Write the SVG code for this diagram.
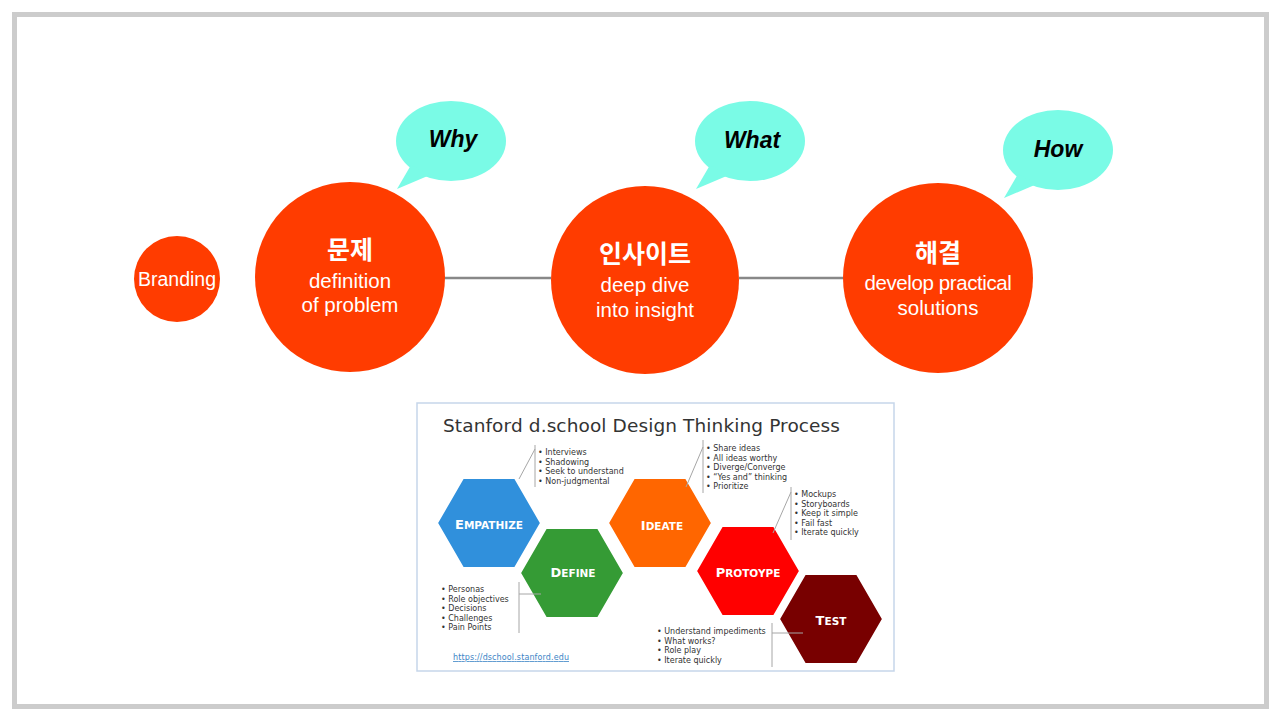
<svg xmlns="http://www.w3.org/2000/svg" width="1280" height="720" viewBox="0 0 1280 720">
<style>
.circ{fill:#ff3c00}
.bub{fill:#7afbe6}
.q{font-family:"Liberation Sans",Arial,sans-serif;font-weight:bold;font-style:italic;font-size:23px;fill:#000;text-anchor:middle}
.ko{font-family:"Noto Sans CJK KR","Noto Sans",sans-serif;font-weight:bold;font-size:25px;fill:#fff;text-anchor:middle}
.en{font-family:"Liberation Sans",Arial,sans-serif;font-size:20.5px;fill:#fff;text-anchor:middle}
.hex{stroke:#fff;stroke-width:2}
.hl{font-family:"DejaVu Sans",Verdana,sans-serif;font-weight:bold;font-size:10.5px;fill:#fff;text-anchor:middle}
.big{font-size:13px}
.li{font-family:"DejaVu Sans",Verdana,sans-serif;font-size:8px;fill:#333}
.br{stroke:#a6a6a6;stroke-width:1;fill:none}
</style>
<rect x="0" y="0" width="1280" height="720" fill="#fff"/>
<rect x="14.5" y="14.5" width="1252" height="692" fill="#fff" stroke="#cccccc" stroke-width="5"/>

<g id="connectors">
<line x1="444" y1="278" x2="551" y2="278" stroke="#888" stroke-width="2.5"/>
<line x1="739" y1="278" x2="844" y2="278" stroke="#888" stroke-width="2.5"/>
</g>

<g id="branding">
<circle class="circ" cx="177" cy="279" r="43"/>
<text class="en" x="177" y="286" style="font-size:19.5px">Branding</text>
</g>

<g id="problem">
<circle class="circ" cx="350" cy="277" r="95"/>
<text class="ko" x="350" y="259">문제</text>
<text class="en" x="350" y="288">definition</text>
<text class="en" x="350" y="312">of problem</text>
</g>

<g id="insight">
<circle class="circ" cx="645" cy="280" r="94"/>
<text class="ko" x="645" y="263">인사이트</text>
<text class="en" x="645" y="292">deep dive</text>
<text class="en" x="645" y="317">into insight</text>
</g>

<g id="solution">
<circle class="circ" cx="938" cy="278" r="95"/>
<text class="ko" x="938" y="262">해결</text>
<text class="en" x="938" y="290" style="letter-spacing:-0.4px">develop practical</text>
<text class="en" x="938" y="315">solutions</text>
</g>

<g id="why">
<ellipse class="bub" cx="451" cy="141" rx="55" ry="40"/>
<polygon class="bub" points="411,165 397,189 430,175"/>
<text class="q" x="453" y="147">Why</text>
</g>

<g id="what">
<ellipse class="bub" cx="750" cy="141" rx="55" ry="40"/>
<polygon class="bub" points="710,165 696,189 729,175"/>
<text class="q" x="752" y="148">What</text>
</g>

<g id="how">
<ellipse class="bub" cx="1058" cy="150" rx="55" ry="40"/>
<polygon class="bub" points="1018,174 1004,198 1037,184"/>
<text class="q" x="1058" y="157">How</text>
</g>

<g id="dschool">
<rect x="417" y="403" width="477" height="268" fill="#fff" stroke="#c6d6ea" stroke-width="1.5"/>
<text x="443" y="432" style="font-family:'DejaVu Sans',Verdana,sans-serif;font-size:18.5px;fill:#333" textLength="397">Stanford d.school Design Thinking Process</text>

<polygon class="hex" fill="#3090dc" points="437,523 463,478 515,478 541,523 515,568 463,568"/>
<polygon class="hex" fill="#359b35" points="520,573 546,528 598,528 624,573 598,618 546,618"/>
<polygon class="hex" fill="#ff6600" points="608,523 634,478 686,478 712,523 686,568 634,568"/>
<polygon class="hex" fill="#ff0000" points="696,571 722,526 774,526 800,571 774,616 722,616"/>
<polygon class="hex" fill="#780000" points="779,619 805,574 857,574 883,619 857,664 805,664"/>

<text class="hl" x="489" y="529"><tspan class="big">E</tspan>MPATHIZE</text>
<text class="hl" x="573" y="577"><tspan class="big">D</tspan>EFINE</text>
<text class="hl" x="662" y="530"><tspan class="big">I</tspan>DEATE</text>
<text class="hl" x="748" y="577"><tspan class="big">P</tspan>ROTOYPE</text>
<text class="hl" x="831" y="625"><tspan class="big">T</tspan>EST</text>

<path class="br" d="M535,445 V487 M535,449 L519,479"/>
<path class="br" d="M703,440 V493 M703,447 L686,487"/>
<path class="br" d="M791,487 V540 M791,492 L773,533"/>
<path class="br" d="M519,582 V633 M519,594 H541"/>
<path class="br" d="M772,623 V667 M772,633 H803"/>

<text class="li" x="538" y="455">• Interviews</text>
<text class="li" x="538" y="464.5">• Shadowing</text>
<text class="li" x="538" y="474">• Seek to understand</text>
<text class="li" x="538" y="483.5">• Non-judgmental</text>

<text class="li" x="706" y="451">• Share ideas</text>
<text class="li" x="706" y="460.5">• All ideas worthy</text>
<text class="li" x="706" y="470">• Diverge/Converge</text>
<text class="li" x="706" y="479.5">• “Yes and” thinking</text>
<text class="li" x="706" y="489">• Prioritize</text>

<text class="li" x="794" y="497">• Mockups</text>
<text class="li" x="794" y="506.5">• Storyboards</text>
<text class="li" x="794" y="516">• Keep it simple</text>
<text class="li" x="794" y="525.5">• Fail fast</text>
<text class="li" x="794" y="535">• Iterate quickly</text>

<text class="li" x="441" y="592">• Personas</text>
<text class="li" x="441" y="601.5">• Role objectives</text>
<text class="li" x="441" y="611">• Decisions</text>
<text class="li" x="441" y="620.5">• Challenges</text>
<text class="li" x="441" y="630">• Pain Points</text>

<text class="li" x="657" y="634">• Understand impediments</text>
<text class="li" x="657" y="643.5">• What works?</text>
<text class="li" x="657" y="653">• Role play</text>
<text class="li" x="657" y="662.5">• Iterate quickly</text>

<text class="li" x="453" y="660" textLength="116" style="fill:#3d85c6;text-decoration:underline">https://dschool.stanford.edu</text>
</g>
</svg>
